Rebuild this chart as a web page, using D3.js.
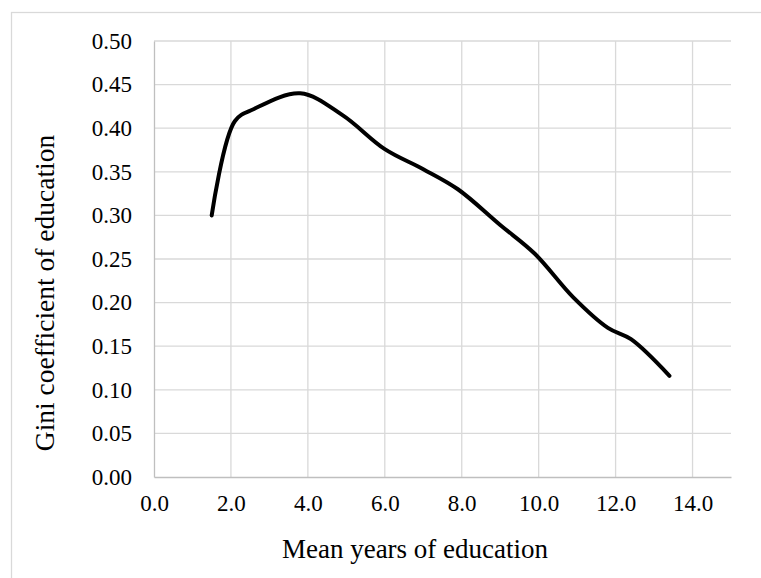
<!DOCTYPE html>
<html>
<head>
<meta charset="utf-8">
<script src="https://cdn.jsdelivr.net/npm/d3@7"></script>
<style>
	html, body { margin: 0; padding: 0; background: #fff; }
	svg { display: block; }
	text { font-family: "Liberation Serif", "Times New Roman", serif; fill: #000; }
	.tick text { font-family: "Liberation Serif", "Times New Roman", serif; font-size: 23px; fill: #000; }
</style>
</head>
<body>
<svg id="chart" width="761" height="578"></svg>
<script>
// values
const meanYears = [1.5, 2.1, 2.6, 3.8, 4.9, 6.0, 7.0, 7.9, 9.0, 9.9, 10.9, 11.8, 12.4, 13.4];
const giniValues = [0.300, 0.408, 0.422, 0.440, 0.415, 0.376, 0.353, 0.330, 0.289, 0.256, 0.206, 0.171, 0.158, 0.116];
const xTicks = [0, 2, 4, 6, 8, 10, 12, 14];
const yTicks = [0, 0.05, 0.1, 0.15, 0.2, 0.25, 0.3, 0.35, 0.4, 0.45, 0.5];
const xTitle = 'Mean years of education';
const yTitle = 'Gini coefficient of education';

const svg = d3.select('#chart');

const plot = { left: 154, right: 731, top: 41, bottom: 477 };

const x = d3.scaleLinear().domain([0, 15]).range([plot.left, plot.right]);
const y = d3.scaleLinear().domain([0, 0.5]).range([plot.bottom, plot.top]);

// chart area border (runs off the right/bottom edge in the reference)
svg.append('rect')
	.attr('x', 11.5)
	.attr('y', 12.5)
	.attr('width', 800)
	.attr('height', 600)
	.style('fill', 'none')
	.style('stroke', '#d9d9d9')
	.style('stroke-width', 1.25);

// gridlines
svg.append('g')
	.selectAll('line')
	.data(yTicks.slice(1))
	.join('line')
	.attr('x1', plot.left)
	.attr('x2', plot.right)
	.attr('y1', (d) => y(d))
	.attr('y2', (d) => y(d))
	.style('stroke', '#d9d9d9')
	.style('stroke-width', 1.3);

svg.append('g')
	.selectAll('line')
	.data(xTicks.slice(1))
	.join('line')
	.attr('x1', (d) => x(d))
	.attr('x2', (d) => x(d))
	.attr('y1', plot.top)
	.attr('y2', plot.bottom)
	.style('stroke', '#d9d9d9')
	.style('stroke-width', 1.3);

// axes
const xAxis = d3.axisBottom(x).tickValues(xTicks).tickFormat(d3.format('.1f')).tickSize(0).tickPadding(18);
const yAxis = d3.axisLeft(y).tickValues(yTicks).tickFormat(d3.format('.2f')).tickSize(0).tickPadding(22);

const gx = svg.append('g').attr('transform', `translate(0,${plot.bottom})`).call(xAxis);
const gy = svg.append('g').attr('transform', `translate(${plot.left},0)`).call(yAxis);

[gx, gy].forEach((g) => {
	g.attr('font-family', null).attr('font-size', null);
	g.select('.domain').style('stroke', '#bfbfbf').style('stroke-width', 1.3);
});

// the smoothed line
const line = d3.line()
	.x((d, i) => x(meanYears[i]))
	.y((d) => y(d))
	.curve(d3.curveCatmullRom.alpha(0.5));

svg.append('path')
	.datum(giniValues)
	.attr('d', line)
	.style('fill', 'none')
	.style('stroke', '#000')
	.style('stroke-width', 4)
	.style('stroke-linecap', 'round')
	.style('stroke-linejoin', 'round');

// axis titles
svg.append('text')
	.attr('x', 415)
	.attr('y', 558)
	.attr('text-anchor', 'middle')
	.style('font-size', '27px')
	.text(xTitle);

svg.append('text')
	.attr('transform', 'translate(54,293) rotate(-90)')
	.attr('text-anchor', 'middle')
	.style('font-size', '27.5px')
	.text(yTitle);
</script>
</body>
</html>
